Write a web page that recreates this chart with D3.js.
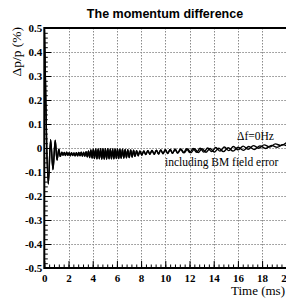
<!DOCTYPE html>
<html>
<head>
<meta charset="utf-8">
<script src="https://cdn.jsdelivr.net/npm/d3@7"></script>
<style>
  body { margin: 0; background: #fff; }
  svg { display: block; }
</style>
</head>
<body>
<figure id="chart_view" style="margin:0"></figure>
<script>
// x ticks (ms) and y ticks (%)
const xTicks = [0, 2, 4, 6, 8, 10, 12, 14, 16, 18, 20];
const yTicks = [-0.5, -0.4, -0.3, -0.2, -0.1, 0, 0.1, 0.2, 0.3, 0.4, 0.5];
const yTickLabels = ["-0.5", "-0.4", "-0.3", "-0.2", "-0.1", "0", "0.1", "0.2", "0.3", "0.4", "0.5"];

// common part of both runs: [time (ms), dp/p (%)]
const commonPart = [
  [0, 0.5], [0.08, 0.32], [0.18, 0.05], [0.33, -0.15], [0.52, 0.035], [0.72, -0.09],
  [0.9, 0.032], [1.05, -0.05], [1.2, -0.005], [1.32, -0.035], [1.45, -0.018],
  [1.55, -0.03], [1.65, -0.019], [1.75, -0.031], [1.85, -0.018], [1.95, -0.03],
  [2.05, -0.02], [2.15, -0.032], [2.25, -0.02], [2.35, -0.031], [2.45, -0.021],
  [2.55, -0.033], [2.65, -0.02], [2.75, -0.033], [2.85, -0.019], [2.95, -0.032],
  [3.05, -0.018], [3.15, -0.034], [3.25, -0.017], [3.35, -0.035], [3.45, -0.015],
  [3.55, -0.037], [3.65, -0.012], [3.75, -0.04], [3.85, -0.008],
  [3.95, -0.042], [4.05, -0.005], [4.15, -0.044], [4.25, -0.004], [4.35, -0.045],
  [4.45, -0.004], [4.55, -0.045], [4.65, -0.003], [4.75, -0.046], [4.85, -0.003],
  [4.95, -0.046], [5.05, -0.003], [5.15, -0.046], [5.25, -0.003], [5.35, -0.045],
  [5.45, -0.004], [5.55, -0.045], [5.65, -0.004], [5.75, -0.045], [5.85, -0.004],
  [5.95, -0.044], [6.05, -0.004], [6.15, -0.044], [6.25, -0.005], [6.35, -0.043],
  [6.46, -0.005], [6.57, -0.042], [6.68, -0.006], [6.79, -0.041], [6.9, -0.007],
  [7.02, -0.04], [7.14, -0.008], [7.26, -0.038], [7.38, -0.009], [7.5, -0.035],
  [7.63, -0.011], [7.76, -0.032], [7.9, -0.012],
  [8.06, -0.029], [8.22, -0.012], [8.39, -0.027], [8.56, -0.011], [8.73, -0.026],
  [8.9, -0.01], [9.08, -0.026], [9.26, -0.009], [9.44, -0.025], [9.62, -0.008],
  [9.81, -0.024], [10.0, -0.007], [10.2, -0.023], [10.4, -0.006], [10.6, -0.022],
  [10.81, -0.005], [11.02, -0.021]
];

// Δf = 0 Hz, after the two runs split
const tailNominal = [
  [11.25, -0.004], [11.5, -0.02], [11.76, -0.003], [12.02, -0.019], [12.3, -0.002],
  [12.58, -0.018], [12.88, -0.001], [13.18, -0.017], [13.5, 0.0], [13.83, -0.015],
  [14.17, 0.002], [14.52, -0.013], [14.88, 0.004], [15.25, -0.011], [15.63, 0.006],
  [16.02, -0.008], [16.43, 0.008], [16.85, -0.005], [17.28, 0.01], [17.72, -0.001],
  [18.17, 0.013], [18.63, 0.004], [19.1, 0.017], [19.55, 0.01], [20, 0.022]
];

// including BM field error
const tailBmError = [
  [11.3, -0.005], [11.56, -0.02], [11.84, -0.004], [12.12, -0.02], [12.42, -0.003],
  [12.72, -0.019], [13.04, -0.003], [13.36, -0.018], [13.7, -0.002], [14.05, -0.017],
  [14.42, -0.001], [14.8, -0.015], [15.2, 0.001], [15.6, -0.013], [16.02, 0.003],
  [16.45, -0.01], [16.9, 0.006], [17.35, -0.006], [17.82, 0.009], [18.3, -0.002],
  [18.78, 0.011], [19.25, 0.003], [19.7, 0.014], [20, 0.01]
];

const seriesNominal = commonPart.concat(tailNominal);
const seriesBmError = commonPart.concat(tailBmError);

var width = 286;
var height = 300;
var padLeft = 44.3, padTop = 28, plotW = 242, plotH = 240;
var serif = "'Liberation Serif', 'Times New Roman', serif";

var svg = d3.select("figure#chart_view")
  .append("svg")
  .attr("width", width)
  .attr("height", height);

const x = d3.scaleLinear().domain([0, 20]).range([padLeft, padLeft + plotW]);
const y = d3.scaleLinear().domain([-0.5, 0.5]).range([padTop + plotH, padTop]);

// dotted grid
const grid = svg.append("g")
  .attr("stroke", "#8a8a8a")
  .attr("stroke-width", 1)
  .attr("stroke-dasharray", "1.5,1.5");

grid.selectAll("line.gx")
  .data(xTicks.slice(1, -1))
  .join("line")
  .attr("class", "gx")
  .attr("x1", d => Math.round(x(d)) + 0.5)
  .attr("x2", d => Math.round(x(d)) + 0.5)
  .attr("y1", padTop)
  .attr("y2", padTop + plotH);

grid.selectAll("line.gy")
  .data(yTicks.slice(1, -1))
  .join("line")
  .attr("class", "gy")
  .attr("x1", padLeft)
  .attr("x2", padLeft + plotW)
  .attr("y1", d => Math.round(y(d)) + 0.5)
  .attr("y2", d => Math.round(y(d)) + 0.5);

// curves
svg.append("clipPath").attr("id", "clip")
  .append("rect").attr("x", padLeft).attr("y", padTop).attr("width", plotW).attr("height", plotH);

const line = d3.line()
  .x(d => x(d[0]))
  .y(d => y(d[1]))
  .curve(d3.curveMonotoneX);

const curves = svg.append("g").attr("clip-path", "url(#clip)");

curves.append("path")
  .datum(seriesBmError)
  .attr("fill", "none")
  .attr("stroke", "#000")
  .attr("stroke-width", 1.4)
  .attr("d", line);

curves.append("path")
  .datum(seriesNominal)
  .attr("fill", "none")
  .attr("stroke", "#000")
  .attr("stroke-width", 1.4)
  .attr("d", line);

function tickFont(g) {
  g.select(".domain").remove();
  g.selectAll("text")
    .style("font-family", serif)
    .style("font-weight", "bold")
    .style("font-size", "11px")
    .attr("fill", "#000");
}

// y axis: major and minor ticks inward
const yMinor = d3.range(-50, 51, 2).map(v => v / 100);
svg.append("g")
  .attr("transform", "translate(" + padLeft + ",0)")
  .call(d3.axisLeft(y).tickValues(yMinor).tickSize(-3.5).tickFormat(""))
  .call(tickFont);

svg.append("g")
  .attr("transform", "translate(" + padLeft + ",0)")
  .call(d3.axisLeft(y).tickValues(yTicks).tickSize(-7).tickPadding(2)
    .tickFormat((d, i) => yTickLabels[i]))
  .call(tickFont);

// x axis
const xMinor = d3.range(0, 201, 4).map(v => v / 10);
svg.append("g")
  .attr("transform", "translate(0," + (padTop + plotH) + ")")
  .call(d3.axisBottom(x).tickValues(xMinor).tickSize(-3.5).tickFormat(""))
  .call(tickFont);

svg.append("g")
  .attr("transform", "translate(0," + (padTop + plotH) + ")")
  .call(d3.axisBottom(x).tickValues(xTicks).tickSize(-7).tickPadding(6).tickFormat(d3.format("d")))
  .call(tickFont);

// frame
svg.append("rect")
  .attr("x", padLeft)
  .attr("y", padTop)
  .attr("width", plotW + 2)
  .attr("height", plotH)
  .attr("fill", "none")
  .attr("stroke", "#000")
  .attr("stroke-width", 2);

// texts
svg.append("text")
  .attr("x", 165)
  .attr("y", 18)
  .attr("text-anchor", "middle")
  .style("font-family", "'Liberation Sans', Arial, sans-serif")
  .style("font-weight", "bold")
  .style("font-size", "12.5px")
  .text("The momentum difference");

svg.append("text")
  .attr("transform", "translate(21,27) rotate(-90)")
  .attr("text-anchor", "end")
  .style("font-family", serif)
  .style("font-size", "13.5px")
  .text("Δp/p (%)");

svg.append("text")
  .attr("x", 285)
  .attr("y", 295)
  .attr("text-anchor", "end")
  .style("font-family", serif)
  .style("font-size", "13px")
  .text("Time (ms)");

svg.append("text")
  .attr("x", 237)
  .attr("y", 140)
  .style("font-family", serif)
  .style("font-size", "11.5px")
  .text("Δf=0Hz");

svg.append("text")
  .attr("x", 165)
  .attr("y", 166)
  .style("font-family", serif)
  .style("font-size", "11.5px")
  .text("including BM field error");
</script>
</body>
</html>
